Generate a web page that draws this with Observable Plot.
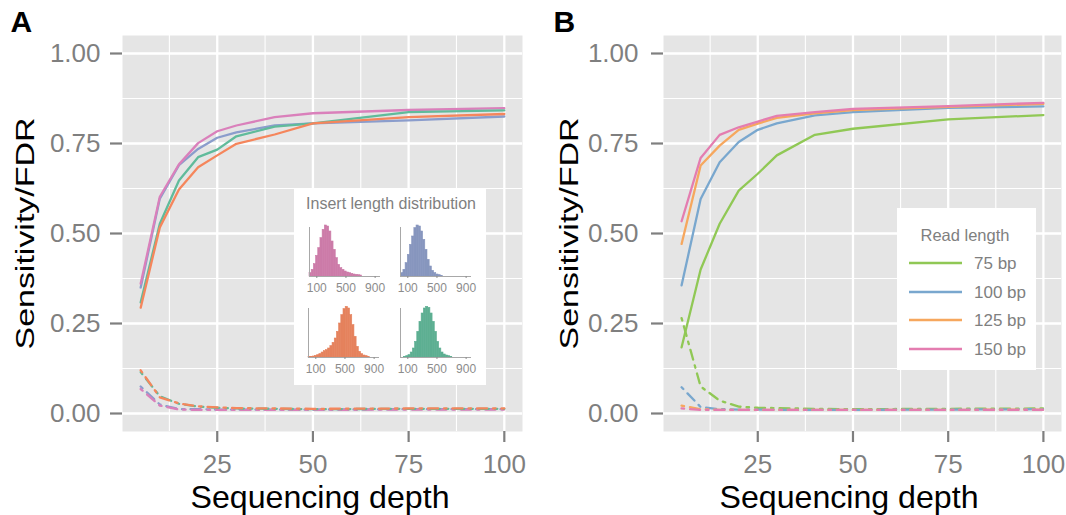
<!DOCTYPE html>
<html><head><meta charset="utf-8">
<script src="https://cdn.jsdelivr.net/npm/d3@7"></script>
<script src="https://cdn.jsdelivr.net/npm/@observablehq/plot@0.6"></script>
<style>
body{margin:0;background:#fff;font-family:"Liberation Sans",Arial,sans-serif;}
#wrap{position:relative;width:1066px;height:515px;overflow:hidden;background:#fff;}
.abs{position:absolute;overflow:visible;}
</style></head><body><div id="wrap"></div>
<script>
// ---------- data ----------
const depths = [5, 10, 15, 20, 25, 30, 40, 50, 75, 100];

// Panel A: four insert length distributions
const insertKeys = ["ins1", "ins2", "ins3", "ins4"];
const insertColors = ["#DA80BB", "#8B9DCC", "#F5865C", "#60BB9B"];
const insertHistColors = ["#CC7BA8", "#8796BE", "#E5825D", "#5DAF92"];
const sensA_ins1 = [0.361, 0.602, 0.692, 0.751, 0.784, 0.800, 0.823, 0.834, 0.843, 0.848];
const sensA_ins2 = [0.350, 0.597, 0.690, 0.735, 0.766, 0.781, 0.800, 0.806, 0.814, 0.825];
const sensA_ins3 = [0.294, 0.517, 0.622, 0.684, 0.717, 0.749, 0.775, 0.806, 0.823, 0.832];
const sensA_ins4 = [0.309, 0.527, 0.647, 0.712, 0.733, 0.770, 0.797, 0.806, 0.837, 0.842];
const fdrA_ins1 = [0.068, 0.022, 0.011, 0.010, 0.010, 0.010, 0.010, 0.010, 0.011, 0.011];
const fdrA_ins2 = [0.075, 0.025, 0.012, 0.012, 0.011, 0.011, 0.011, 0.011, 0.012, 0.012];
const fdrA_ins3 = [0.120, 0.045, 0.028, 0.020, 0.017, 0.015, 0.014, 0.013, 0.014, 0.014];
const fdrA_ins4 = [0.115, 0.048, 0.027, 0.019, 0.016, 0.014, 0.013, 0.012, 0.013, 0.013];

// Insert length histograms (bin width 30)
const histBinWidth = 30;
const histStarts = [0, 10, 0, 50];
const hist_ins1 = [10, 20, 37, 62, 85, 115, 140, 153, 150, 135, 105, 80, 55, 35, 25, 20, 15, 12, 10, 8, 6, 5, 4, 3];
const hist_ins2 = [10, 20, 40, 65, 95, 120, 145, 153, 150, 135, 110, 80, 50, 30, 17, 10, 6, 4, 2];
const hist_ins3 = [2, 2, 3, 5, 7, 10, 15, 19, 22, 27, 34, 44, 57, 77, 102, 127, 145, 152, 147, 127, 97, 62, 32, 17, 10, 6, 4, 2];
const hist_ins4 = [2, 4, 7, 15, 27, 47, 77, 107, 132, 147, 152, 149, 132, 107, 77, 47, 27, 15, 9, 6, 4, 2];
const histTicks = [100, 500, 900];

// Panel B: read lengths
const readKeys = ["75 bp", "100 bp", "125 bp", "150 bp"];
const readColors = ["#90C855", "#79A7CE", "#F6A75E", "#E47DB0"];
const sensB_75 = [0.184, 0.400, 0.527, 0.619, 0.666, 0.717, 0.774, 0.791, 0.817, 0.829];
const sensB_100 = [0.356, 0.596, 0.698, 0.754, 0.788, 0.806, 0.828, 0.837, 0.849, 0.853];
const sensB_125 = [0.471, 0.689, 0.744, 0.788, 0.805, 0.821, 0.834, 0.843, 0.852, 0.860];
const sensB_150 = [0.534, 0.710, 0.774, 0.795, 0.811, 0.827, 0.837, 0.846, 0.854, 0.863];
const fdrB_75 = [0.265, 0.075, 0.036, 0.019, 0.016, 0.015, 0.013, 0.012, 0.013, 0.014];
const fdrB_100 = [0.073, 0.018, 0.012, 0.011, 0.011, 0.010, 0.010, 0.010, 0.011, 0.012];
const fdrB_125 = [0.022, 0.012, 0.010, 0.010, 0.010, 0.010, 0.010, 0.010, 0.010, 0.011];
const fdrB_150 = [0.014, 0.010, 0.010, 0.010, 0.010, 0.010, 0.010, 0.010, 0.010, 0.010];

const xMajor = [25, 50, 75, 100];
const xMinor = [12.5, 37.5, 62.5, 87.5];
const yMajor = [0, 0.25, 0.5, 0.75, 1];
const yMinor = [0.125, 0.375, 0.625, 0.875];

// ---------- helpers ----------
const FONT = "'Liberation Sans', Arial, Helvetica, sans-serif";
const GREY = "#7f7f7f";
function rows(keys, arrays) {
  const out = [];
  keys.forEach((k, i) => arrays[i].forEach((v, j) => out.push({key: k, depth: depths[j], value: v})));
  return out;
}
const wrap = document.getElementById("wrap");

function panel({keys, colors, sens, fdr, marginLeft, marginRight, letter, letterDx, yTitleDx, xTitleDx, yPad, drawOrder}) {
  const sensRows = rows(keys, sens);
  const fdrRows = rows(keys, fdr);
  const orderIdx = k => drawOrder.indexOf(k);
  sensRows.sort((a, b) => orderIdx(a.key) - orderIdx(b.key));
  fdrRows.sort((a, b) => orderIdx(a.key) - orderIdx(b.key));
  const svg = Plot.plot({
    width: 533, height: 515,
    marginLeft, marginRight, marginTop: 35, marginBottom: 84,
    x: {domain: [0.25, 104.75]},
    y: {domain: [-0.05, 1.05]},
    color: {domain: keys, range: colors},
    style: {fontFamily: FONT, background: "transparent", overflow: "visible"},
    marks: [
      Plot.frame({fill: "#E5E5E5", stroke: null}),
      Plot.ruleX(xMinor, {stroke: "#fff", strokeWidth: 1.1}),
      Plot.ruleY(yMinor, {stroke: "#fff", strokeWidth: 1.1}),
      Plot.ruleX(xMajor, {stroke: "#fff", strokeWidth: 2.3}),
      Plot.ruleY(yMajor, {stroke: "#fff", strokeWidth: 2.3}),
      Plot.axisX({ticks: xMajor, tickSize: 11, tickPadding: 12, fontSize: 26, color: GREY, strokeWidth: 2.2, label: null}),
      Plot.axisY({ticks: yMajor, tickSize: 12, tickPadding: yPad, tickFormat: d3.format(".2f"), fontSize: 26, color: GREY, strokeWidth: 2.2, label: null}),
      Plot.line(fdrRows, {x: "depth", y: "value", z: "key", stroke: "key", strokeWidth: 2.3, strokeDasharray: "2.5,6,10,6"}),
      Plot.line(sensRows, {x: "depth", y: "value", z: "key", stroke: "key", strokeWidth: 2.3}),
      Plot.text(["Sensitivity/FDR"], {text: d => d, frameAnchor: "left", dx: yTitleDx, rotate: -90, textAnchor: "middle", lineAnchor: "middle", fontSize: 26, fill: "#000"}),
      Plot.text(["Sequencing depth"], {text: d => d, frameAnchor: "bottom", dx: xTitleDx, dy: 66, textAnchor: "middle", lineAnchor: "middle", fontSize: 32, fill: "#000"}),
      Plot.text([letter], {text: d => d, frameAnchor: "top-left", dx: letterDx, dy: -13, textAnchor: "start", lineAnchor: "middle", fontSize: 30, fontWeight: "bold", fill: "#000"})
    ]
  });
  d3.select(svg).selectAll("text").each(function() {
    const t = this.textContent;
    if (t === "Sensitivity/FDR") { this.setAttribute("textLength", 232); this.setAttribute("lengthAdjust", "spacingAndGlyphs"); }
    if (t === "Sequencing depth") { this.setAttribute("textLength", 259); this.setAttribute("lengthAdjust", "spacingAndGlyphs"); }
  });
  return svg;
}

// Panel A
const svgA = panel({
  keys: insertKeys, colors: insertColors,
  sens: [sensA_ins1, sensA_ins2, sensA_ins3, sensA_ins4],
  fdr: [fdrA_ins1, fdrA_ins2, fdrA_ins3, fdrA_ins4],
  marginLeft: 122, marginRight: 11, letter: "A", letterDx: -112,
  yTitleDx: -97, xTitleDx: -2.5, yPad: 10,
  drawOrder: ["ins2", "ins1", "ins4", "ins3"]
});
svgA.classList.add("abs"); svgA.style.left = "0px"; svgA.style.top = "0px";
wrap.appendChild(svgA);

// Panel B
const svgB = panel({
  keys: readKeys, colors: readColors,
  sens: [sensB_75, sensB_100, sensB_125, sensB_150],
  fdr: [fdrB_75, fdrB_100, fdrB_125, fdrB_150],
  marginLeft: 130, marginRight: 5, letter: "B", letterDx: -110,
  yTitleDx: -94, xTitleDx: -13.5, yPad: 13,
  drawOrder: readKeys
});
svgB.classList.add("abs"); svgB.style.left = "533px"; svgB.style.top = "0px";
wrap.appendChild(svgB);

// Inset box (panel A)
const inset = d3.create("svg").attr("class", "abs").attr("width", 192).attr("height", 197)
  .style("left", "294px").style("top", "188px");
inset.append("rect").attr("width", 192).attr("height", 197).attr("fill", "#fff");
inset.append("text").attr("x", 97).attr("y", 21).attr("text-anchor", "middle")
  .attr("font-family", FONT).attr("font-size", 16).attr("fill", GREY).text("Insert length distribution");
wrap.appendChild(inset.node());

const hists = [hist_ins1, hist_ins2, hist_ins3, hist_ins4];
const histPos = [[297, 221], [388, 221], [296, 302], [388, 302]];
hists.forEach((h, i) => {
  const bins = h.map((c, j) => ({x1: histStarts[i] + j * histBinWidth, x2: histStarts[i] + (j + 1) * histBinWidth, y: c}));
  const mini = Plot.plot({
    width: 94, height: 75, marginLeft: 12, marginRight: 12, marginTop: 6, marginBottom: 20,
    x: {domain: [0, 960]},
    y: {domain: [0, 147]},
    style: {fontFamily: FONT, background: "transparent", overflow: "visible"},
    marks: [
      Plot.rectY(bins, {x1: "x1", x2: "x2", y: "y", fill: insertHistColors[i], stroke: insertHistColors[i], strokeWidth: 0.6, inset: 0}),
      Plot.frame({anchor: "left", stroke: "#a8a8a8", strokeWidth: 1}),
      Plot.frame({anchor: "bottom", stroke: "#a8a8a8", strokeWidth: 1}),
      Plot.axisX({ticks: histTicks, tickSize: 2, tickPadding: 4.5, fontSize: 12, color: "#8c8c8c", label: null}),
      Plot.axisY({ticks: [], label: null})
    ]
  });
  mini.classList.add("abs");
  mini.style.left = histPos[i][0] + "px"; mini.style.top = histPos[i][1] + "px";
  wrap.appendChild(mini);
});

// Legend (panel B)
const leg = d3.create("svg").attr("class", "abs").attr("width", 139).attr("height", 162)
  .style("left", "897px").style("top", "208px");
leg.append("rect").attr("width", 139).attr("height", 162).attr("fill", "#fff");
leg.append("text").attr("x", 68).attr("y", 33).attr("text-anchor", "middle")
  .attr("font-family", FONT).attr("font-size", 16.5).attr("fill", GREY).text("Read length");
const legY = [55, 84, 112, 141];
readKeys.forEach((k, i) => {
  leg.append("line").attr("x1", 12).attr("x2", 65).attr("y1", legY[i]).attr("y2", legY[i])
    .attr("stroke", readColors[i]).attr("stroke-width", 2.5);
  leg.append("text").attr("x", 77).attr("y", legY[i] + 6).attr("font-family", FONT)
    .attr("font-size", 17).attr("fill", GREY).text(k);
});
wrap.appendChild(leg.node());
</script></body></html>
